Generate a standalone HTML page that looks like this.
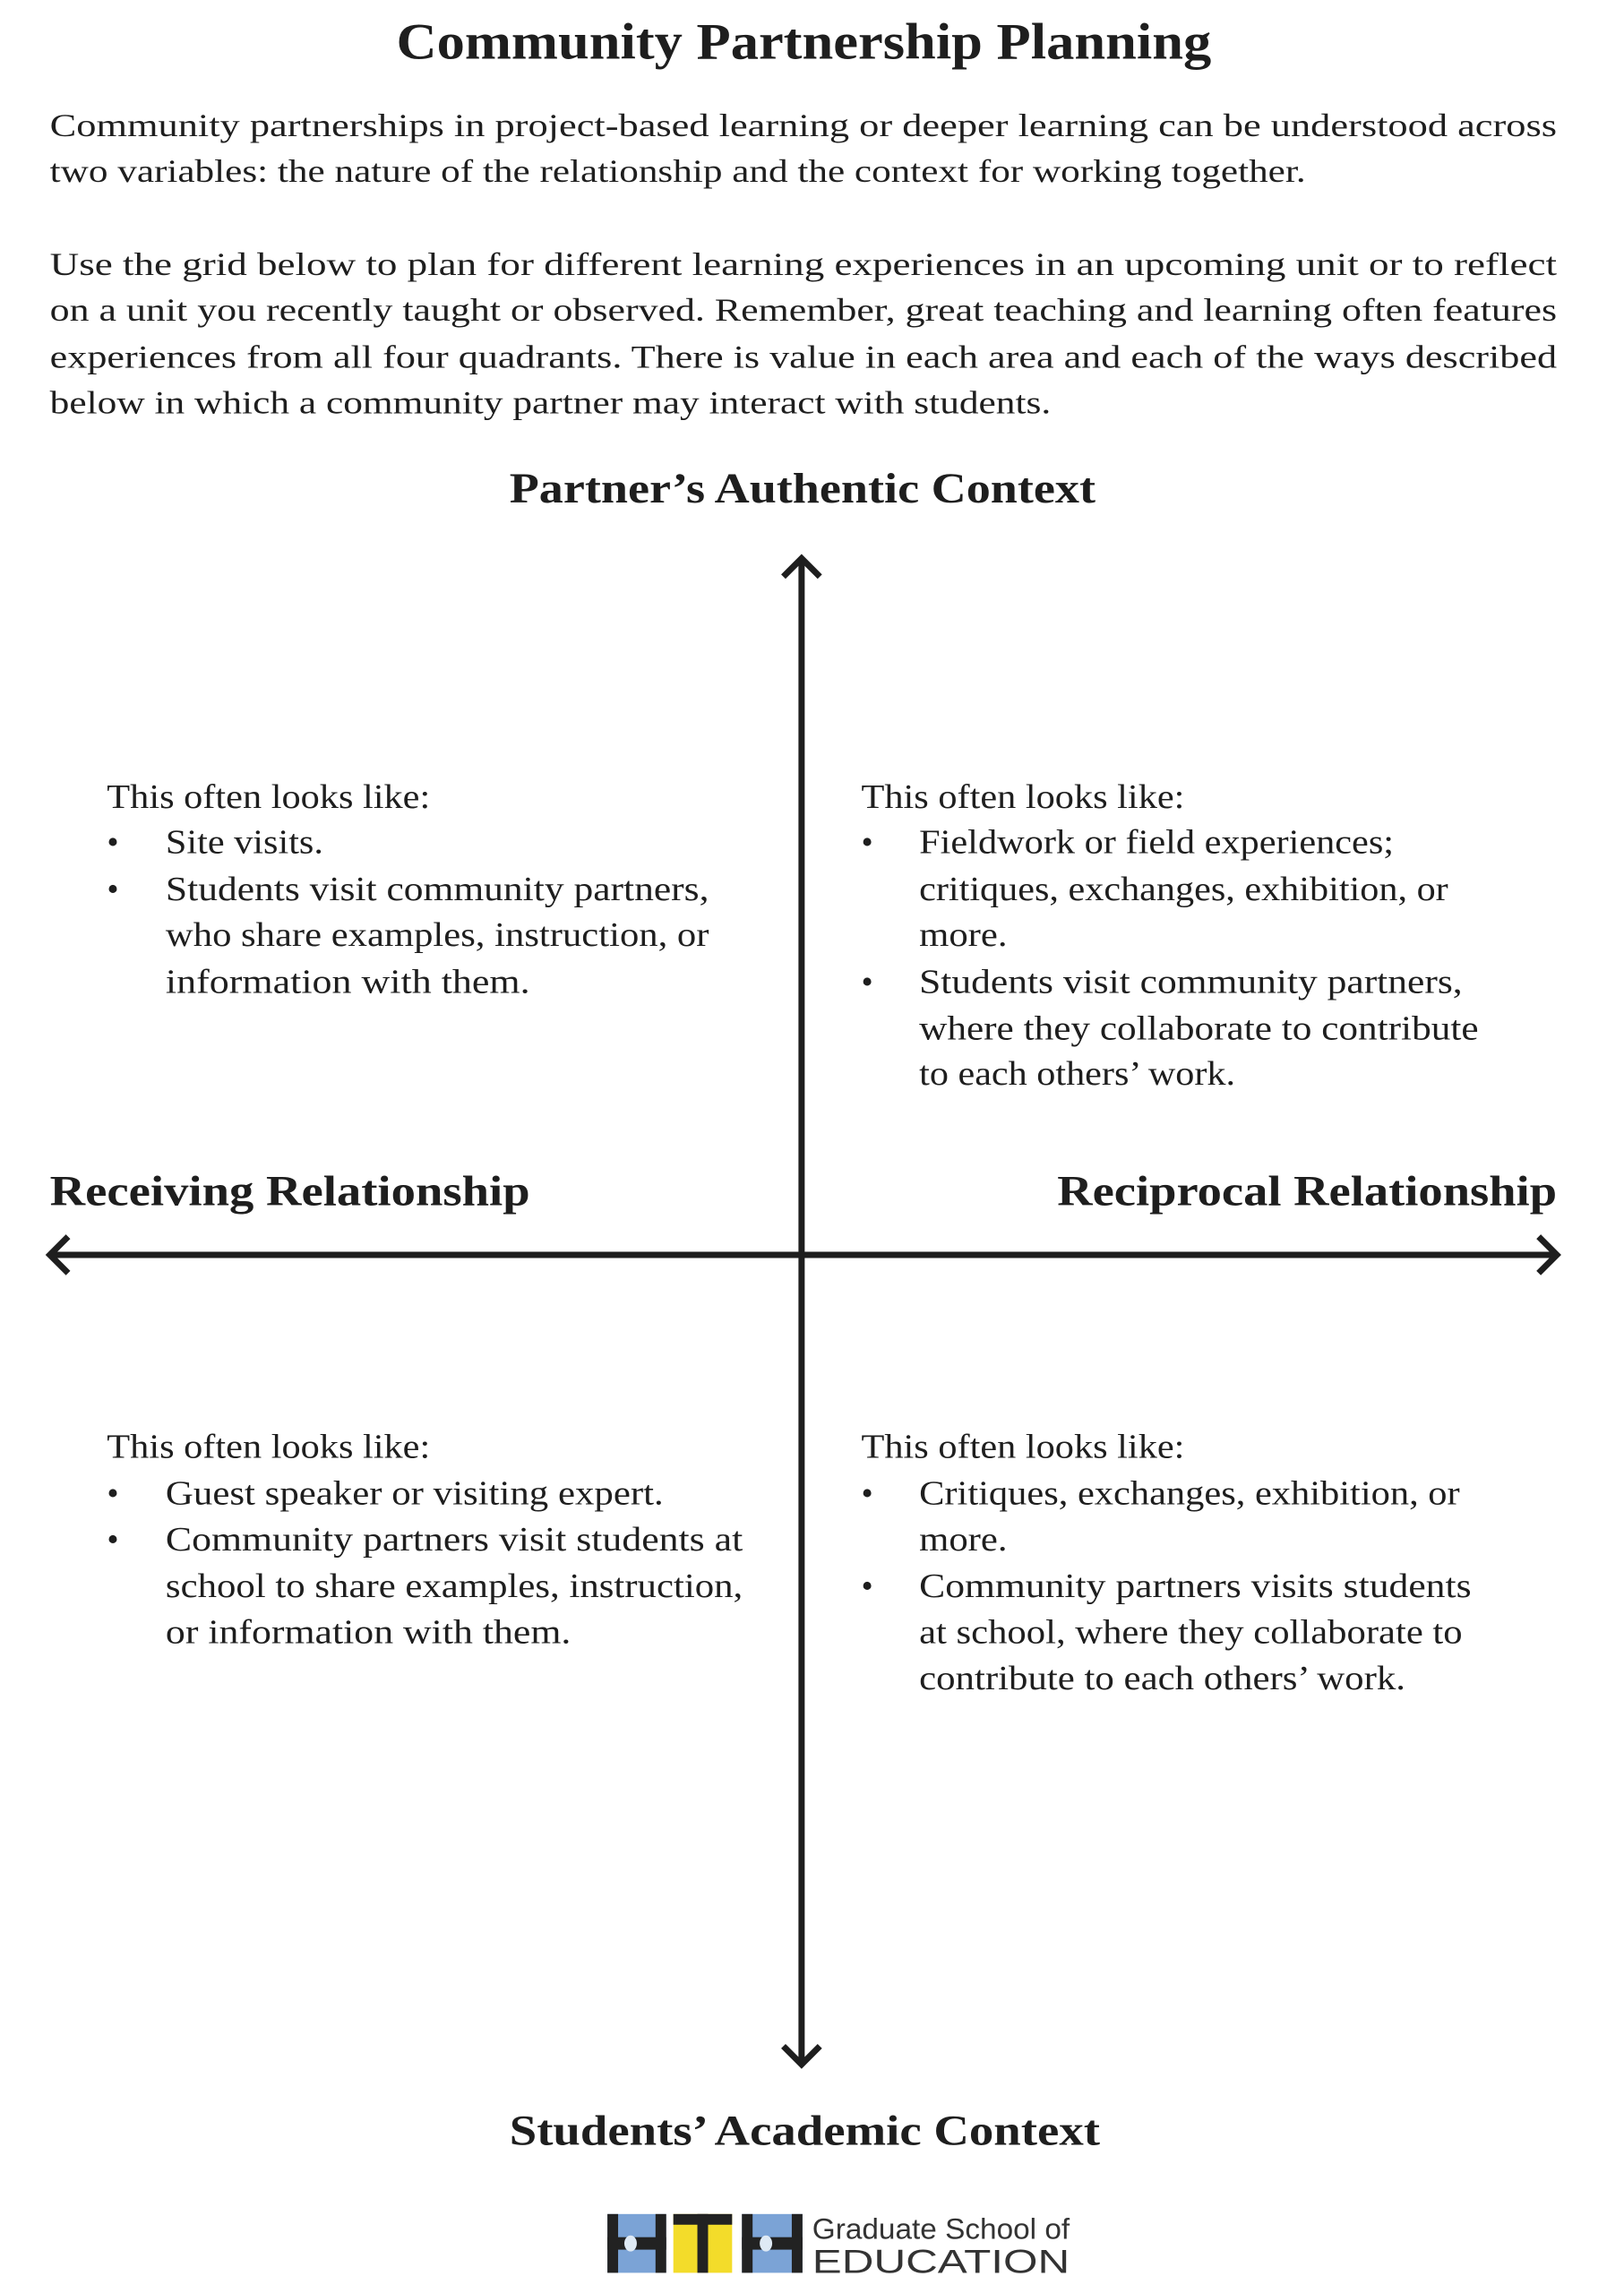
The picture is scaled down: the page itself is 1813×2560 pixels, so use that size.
<!DOCTYPE html>
<html><head><meta charset="utf-8"><style>
html,body{margin:0;padding:0;background:#fff;}
svg{display:block;}
text{font-family:"Liberation Serif",serif;fill:#1e1e1e;}
.b{font-size:36px;}
.q{font-size:38px;}
.h{font-size:48px;font-weight:bold;}
.s{font-family:"Liberation Sans",sans-serif;fill:#333;font-weight:300;}
</style></head><body>
<svg width="1813" height="2560" viewBox="0 0 1813 2560" xmlns="http://www.w3.org/2000/svg">
<rect width="1813" height="2560" fill="#fff"/>
<g transform="scale(0.9943)">
<text x="445" y="66" style="font-size:58px;font-weight:bold" textLength="915" lengthAdjust="spacingAndGlyphs">Community Partnership Planning</text>

<text class="b" x="56" y="153" textLength="1692" lengthAdjust="spacingAndGlyphs">Community partnerships in project-based learning or deeper learning can be understood across</text>
<text class="b" x="56" y="204" textLength="1410" lengthAdjust="spacingAndGlyphs">two variables: the nature of the relationship and the context for working together.</text>
<text class="b" x="56" y="309" textLength="1692" lengthAdjust="spacingAndGlyphs">Use the grid below to plan for different learning experiences in an upcoming unit or to reflect</text>
<text class="b" x="56" y="360" textLength="1692" lengthAdjust="spacingAndGlyphs">on a unit you recently taught or observed. Remember, great teaching and learning often features</text>
<text class="b" x="56" y="413" textLength="1692" lengthAdjust="spacingAndGlyphs">experiences from all four quadrants. There is value in each area and each of the ways described</text>
<text class="b" x="56" y="464" textLength="1124" lengthAdjust="spacingAndGlyphs">below in which a community partner may interact with students.</text>

<text class="h" x="572" y="564" textLength="658" lengthAdjust="spacingAndGlyphs">Partner’s Authentic Context</text>
<text class="h" x="56" y="1353" textLength="539" lengthAdjust="spacingAndGlyphs">Receiving Relationship</text>
<text class="h" x="1187" y="1353" textLength="561" lengthAdjust="spacingAndGlyphs">Reciprocal Relationship</text>
<text class="h" x="572" y="2408" textLength="663" lengthAdjust="spacingAndGlyphs">Students’ Academic Context</text>

<g stroke="#1e1e1e" stroke-width="7" fill="none" stroke-linecap="square">
<line x1="900" y1="630" x2="900" y2="2315"/>
<line x1="60" y1="1409" x2="1744" y2="1409"/>
<polyline points="882,645 900,627 918,645"/>
<polyline points="882,2300 900,2318 918,2300"/>
<polyline points="74,1391 56,1409 74,1427"/>
<polyline points="1730,1391 1748,1409 1730,1427"/>
</g>

<text class="q" x="120" y="907" textLength="363" lengthAdjust="spacingAndGlyphs">This often looks like:</text>
<text class="q" x="120" y="958">•</text>
<text class="q" x="186" y="958" textLength="177" lengthAdjust="spacingAndGlyphs">Site visits.</text>
<text class="q" x="120" y="1011">•</text>
<text class="q" x="186" y="1011" textLength="610" lengthAdjust="spacingAndGlyphs">Students visit community partners,</text>
<text class="q" x="186" y="1062" textLength="610" lengthAdjust="spacingAndGlyphs">who share examples, instruction, or</text>
<text class="q" x="186" y="1115" textLength="409" lengthAdjust="spacingAndGlyphs">information with them.</text>

<text class="q" x="967" y="907" textLength="363" lengthAdjust="spacingAndGlyphs">This often looks like:</text>
<text class="q" x="967" y="958">•</text>
<text class="q" x="1032" y="958" textLength="533" lengthAdjust="spacingAndGlyphs">Fieldwork or field experiences;</text>
<text class="q" x="1032" y="1011" textLength="594" lengthAdjust="spacingAndGlyphs">critiques, exchanges, exhibition, or</text>
<text class="q" x="1032" y="1062" textLength="99" lengthAdjust="spacingAndGlyphs">more.</text>
<text class="q" x="967" y="1115">•</text>
<text class="q" x="1032" y="1115" textLength="610" lengthAdjust="spacingAndGlyphs">Students visit community partners,</text>
<text class="q" x="1032" y="1167" textLength="628" lengthAdjust="spacingAndGlyphs">where they collaborate to contribute</text>
<text class="q" x="1032" y="1218" textLength="355" lengthAdjust="spacingAndGlyphs">to each others’ work.</text>

<text class="q" x="120" y="1637" textLength="363" lengthAdjust="spacingAndGlyphs">This often looks like:</text>
<text class="q" x="120" y="1689">•</text>
<text class="q" x="186" y="1689" textLength="559" lengthAdjust="spacingAndGlyphs">Guest speaker or visiting expert.</text>
<text class="q" x="120" y="1741">•</text>
<text class="q" x="186" y="1741" textLength="648" lengthAdjust="spacingAndGlyphs">Community partners visit students at</text>
<text class="q" x="186" y="1793" textLength="648" lengthAdjust="spacingAndGlyphs">school to share examples, instruction,</text>
<text class="q" x="186" y="1845" textLength="455" lengthAdjust="spacingAndGlyphs">or information with them.</text>

<text class="q" x="967" y="1637" textLength="363" lengthAdjust="spacingAndGlyphs">This often looks like:</text>
<text class="q" x="967" y="1689">•</text>
<text class="q" x="1032" y="1689" textLength="607" lengthAdjust="spacingAndGlyphs">Critiques, exchanges, exhibition, or</text>
<text class="q" x="1032" y="1741" textLength="99" lengthAdjust="spacingAndGlyphs">more.</text>
<text class="q" x="967" y="1793">•</text>
<text class="q" x="1032" y="1793" textLength="620" lengthAdjust="spacingAndGlyphs">Community partners visits students</text>
<text class="q" x="1032" y="1845" textLength="610" lengthAdjust="spacingAndGlyphs">at school, where they collaborate to</text>
<text class="q" x="1032" y="1897" textLength="546" lengthAdjust="spacingAndGlyphs">contribute to each others’ work.</text>

<!-- logo -->
<g>
<rect x="682" y="2486" width="66" height="66" fill="#7ba3d6"/>
<rect x="682" y="2486" width="12" height="66" fill="#222"/>
<rect x="736" y="2486" width="12" height="66" fill="#222"/>
<rect x="682" y="2512" width="66" height="14" fill="#222"/>
<ellipse cx="708" cy="2519" rx="7" ry="9" fill="#dfeaf5"/>
<rect x="756" y="2486" width="66" height="66" fill="#f3dc2a"/>
<rect x="756" y="2486" width="66" height="12" fill="#222"/>
<rect x="783" y="2486" width="12" height="66" fill="#222"/>
<rect x="833" y="2486" width="68" height="66" fill="#7ba3d6"/>
<rect x="833" y="2486" width="12" height="66" fill="#222"/>
<rect x="889" y="2486" width="12" height="66" fill="#222"/>
<rect x="833" y="2512" width="68" height="14" fill="#222"/>
<ellipse cx="860" cy="2519" rx="7" ry="9" fill="#dfeaf5"/>
<text class="s" x="912" y="2514" style="font-size:33px" textLength="289" lengthAdjust="spacingAndGlyphs">Graduate School of</text>
<text class="s" x="912" y="2552" style="font-size:37px" textLength="289" lengthAdjust="spacingAndGlyphs">EDUCATION</text>
</g>
</g>
</svg>
</body></html>
